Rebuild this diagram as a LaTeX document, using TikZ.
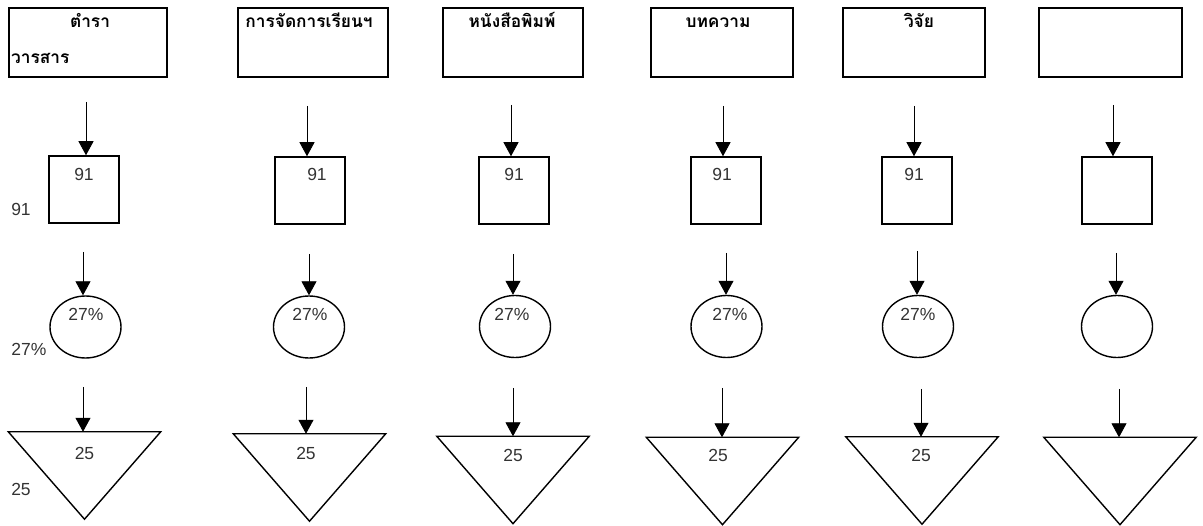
\documentclass[tikz,border=0pt]{standalone}
\usepackage{fontspec}
\setmainfont{Liberation Sans}
\newfontfamily\thaifont[Script=Thai]{Loma}
\usetikzlibrary{arrows.meta,shapes.geometric}
\begin{document}
\begin{tikzpicture}[x=1pt,y=-1pt,
  topbox/.style={draw,line width=1.6pt,minimum height=69pt,inner sep=0pt},
  sqbox/.style={draw,line width=1.5pt,minimum width=70pt,minimum height=67pt,inner sep=0pt},
  ellbox/.style={ellipse,draw,line width=1.4pt,minimum width=71pt,minimum height=62pt,inner sep=0pt},
  tribox/.style={minimum width=152pt,minimum height=87pt,inner sep=0pt},
  tridraw/.style={draw,line width=1.4pt,line join=miter},
  arr/.style={draw,line width=0.9pt,-{Triangle[width=15pt,length=14pt]}},
  thaititle/.style={font=\thaifont\bfseries\fontsize{17.3}{19}\selectfont,inner sep=0pt,anchor=base},
  numtxt/.style={font=\fontsize{17.5}{19}\selectfont,text=black!80,inner sep=0pt}]
\useasboundingbox (0,0) rectangle (1203,526);
% top boxes
\node[topbox,minimum width=158pt] (b1) at (88,42.5) {};
\node[topbox,minimum width=150pt] (b2) at (313,42.5) {};
\node[topbox,minimum width=140pt] (b3) at (513,42.5) {};
\node[topbox,minimum width=142pt] (b4) at (722,42.5) {};
\node[topbox,minimum width=142pt] (b5) at (914,42.5) {};
\node[topbox,minimum width=143pt] (b6) at (1110.5,42.5) {};
\node[thaititle] (t1) at (90,28) {ตำรา};
\node[thaititle,anchor=base west] (t1b) at (11,64) {วารสาร};
\node[thaititle] (t2) at (309,28) {การจัดการเรียนฯ};
\node[thaititle] (t3) at (512,28) {หนังสือพิมพ์};
\node[thaititle] (t4) at (718,28) {บทความ};
\node[thaititle] (t5) at (919,28) {วิจัย};
% squares
\node[sqbox] (s1) at (84,189.5) {};
\node[sqbox] (s2) at (310,190.5) {};
\node[sqbox] (s3) at (514,190.5) {};
\node[sqbox] (s4) at (726,190.5) {};
\node[sqbox] (s5) at (917,190.5) {};
\node[sqbox] (s6) at (1117,190.5) {};
% circles
\node[ellbox] (c1) at (85.5,327) {};
\node[ellbox] (c2) at (309,327) {};
\node[ellbox] (c3) at (515,326.5) {};
\node[ellbox] (c4) at (726.5,326.5) {};
\node[ellbox] (c5) at (918,326.5) {};
\node[ellbox] (c6) at (1117,326.5) {};
% triangles (bounding nodes)
\node[tribox] (r1) at (84.5,475.5) {};
\node[tribox] (r2) at (309.5,477.5) {};
\node[tribox] (r3) at (513,480) {};
\node[tribox] (r4) at (722.5,481) {};
\node[tribox] (r5) at (922,480.5) {};
\node[tribox] (r6) at (1120,481) {};
\foreach \i in {1,...,6}{
  \draw[tridraw] (r\i.north west) -- (r\i.north east) -- (r\i.south) -- cycle;
}
% arrow start coordinates
\coordinate (a1) at (86,102);   \coordinate (a2) at (307,106);
\coordinate (a3) at (511,105);  \coordinate (a4) at (723,106);
\coordinate (a5) at (914,106);  \coordinate (a6) at (1113,105);
\coordinate (e1) at (83,252);   \coordinate (e2) at (309,254);
\coordinate (e3) at (513,254);  \coordinate (e4) at (726,253);
\coordinate (e5) at (917,251);  \coordinate (e6) at (1116,253);
\coordinate (g1) at (83,387);   \coordinate (g2) at (306,387);
\coordinate (g3) at (513,388);  \coordinate (g4) at (722,388);
\coordinate (g5) at (921,389);  \coordinate (g6) at (1119,389);
\foreach \i in {1,...,6}{
  \draw[arr] (a\i) -- (a\i |- s\i.north);
  \draw[arr] (e\i) -- (e\i |- c\i.north);
  \draw[arr] (g\i) -- (g\i |- r\i.north);
}
% numbers
\node[numtxt] (n1) at (84,174) {91};
\node[numtxt] (n2) at (317,174) {91};
\node[numtxt] (n3) at (514,174) {91};
\node[numtxt] (n4) at (722,174) {91};
\node[numtxt] (n5) at (914,174) {91};
\node[numtxt] (p1) at (86,314) {27\%};
\node[numtxt] (p2) at (310,314) {27\%};
\node[numtxt] (p3) at (512,314) {27\%};
\node[numtxt] (p4) at (730,314) {27\%};
\node[numtxt] (p5) at (918,314) {27\%};
\node[numtxt] (q1) at (84.5,453) {25};
\node[numtxt] (q2) at (306,453) {25};
\node[numtxt] (q3) at (513,455) {25};
\node[numtxt] (q4) at (718,455) {25};
\node[numtxt] (q5) at (921,455) {25};
\node[numtxt] (o1) at (21,209) {91};
\node[numtxt] (o2) at (29,349) {27\%};
\node[numtxt] (o3) at (21,489) {25};
\end{tikzpicture}
\end{document}
